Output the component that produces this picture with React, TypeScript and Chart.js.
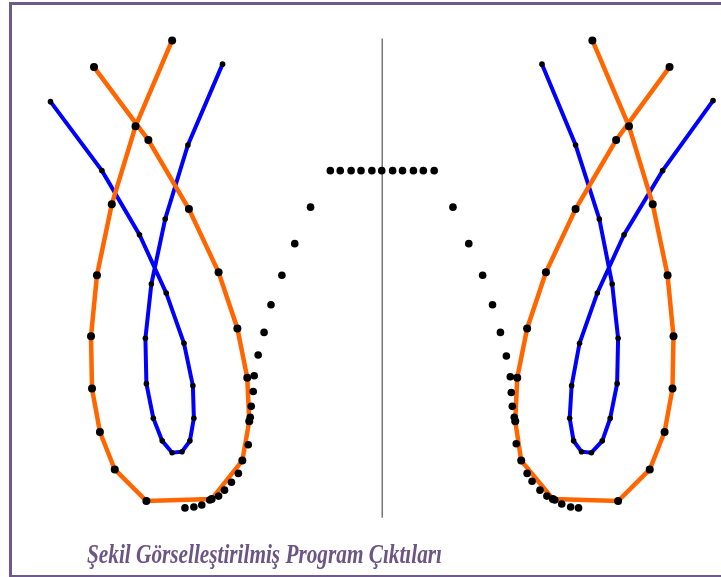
import React, { useEffect, useRef } from "react";
import { Chart, registerables } from "chart.js";

Chart.register(...registerables);

// Coordinates (x to the right, y downward).
const leftOrangeX = [170, 133, 109, 94, 88, 89, 97, 112, 144, 210, 241, 248, 246, 236, 217, 187, 146, 91];
const leftOrangeY = [37, 124, 203, 275, 337, 390, 434, 472, 504, 502, 463, 423, 379, 329, 272, 208, 138, 64];

const leftBlueX = [47, 99, 137, 164, 182, 191, 192, 188, 180, 170, 160, 151, 144, 143, 149, 163, 186, 221];
const leftBlueY = [99, 169, 234, 293, 344, 387, 420, 443, 454, 455, 443, 420, 385, 339, 284, 218, 143, 61];

const rightOrangeX = [595, 632, 656, 671, 677, 676, 668, 653, 621, 555, 523, 517, 519, 529, 548, 578, 619, 673];
const rightOrangeY = [37, 124, 203, 275, 337, 390, 434, 472, 504, 502, 463, 423, 379, 329, 272, 208, 138, 64];

const rightBlueX = [717, 666, 627, 600, 582, 574, 572, 576, 584, 594, 605, 613, 620, 621, 615, 602, 578, 544];
const rightBlueY = [98, 169, 234, 293, 344, 387, 420, 443, 454, 455, 443, 420, 385, 339, 284, 218, 143, 61];

const topRowX = [330, 340, 351, 361, 372, 382, 393, 403, 414, 424, 435];
const topRowY = [169, 169, 169, 169, 169, 169, 169, 169, 169, 169, 169];

const leftDotsX = [310, 294, 281, 270, 263, 257, 253, 252, 250, 249, 247, 237, 230, 223, 217, 208, 200, 192, 183];
const leftDotsY = [206, 243, 275, 305, 333, 356, 377, 393, 408, 419, 447, 476, 485, 493, 499, 503, 508, 510, 511];

const rightDotsX = [454, 470, 484, 494, 502, 508, 512, 513, 514, 516, 518, 529, 534, 542, 549, 557, 564, 573, 581];
const rightDotsY = [206, 243, 275, 305, 333, 357, 378, 394, 408, 419, 446, 476, 484, 493, 499, 503, 507, 510, 511];

const axisX = [382.5, 382.5];
const axisY = [35, 521];

const caption = "Şekil Görselleştirilmiş Program Çıktıları";

const W = 721;
const H = 577;

function pts(xs: number[], ys: number[]) {
  return xs.map((x, i) => ({ x, y: ys[i] }));
}

export default function App() {
  const ref = useRef<HTMLCanvasElement | null>(null);

  useEffect(() => {
    const canvas = ref.current;
    if (!canvas) return;

    const framePlugin = {
      id: "frame",
      beforeDraw(chart: any) {
        const ctx = chart.ctx;
        ctx.save();
        ctx.fillStyle = "#ffffff";
        ctx.fillRect(0, 0, W, H);
        ctx.restore();
      },
      afterDraw(chart: any) {
        const ctx = chart.ctx;
        ctx.save();
        ctx.fillStyle = "#6e5a8c";
        ctx.fillRect(9, 2, W - 9, 3);
        ctx.fillRect(9, 2, 3, H - 2);
        ctx.fillRect(9, 575, W - 9, 2);
        ctx.fillStyle = "#6a5585";
        ctx.font = 'bold italic 27px "Liberation Serif", "DejaVu Serif", serif';
        ctx.textBaseline = "alphabetic";
        ctx.fillText(caption, 87, 563, 355);
        ctx.restore();
      },
    };

    const orangeStyle = {
      borderColor: "#ff6600",
      borderWidth: 4.5,
      pointRadius: 4,
      pointBackgroundColor: "#000000",
      pointBorderColor: "#000000",
      pointBorderWidth: 0,
      showLine: true,
      tension: 0,
      clip: false as any,
    };
    const blueStyle = {
      borderColor: "#0000ff",
      borderWidth: 4,
      pointRadius: 2.8,
      pointBackgroundColor: "#000000",
      pointBorderColor: "#000000",
      pointBorderWidth: 0,
      showLine: true,
      tension: 0,
      clip: false as any,
    };
    const dotStyle = {
      showLine: false,
      pointRadius: 3.8,
      pointBackgroundColor: "#000000",
      pointBorderColor: "#000000",
      pointBorderWidth: 0,
      clip: false as any,
    };

    const chart = new Chart(canvas, {
      type: "scatter",
      data: {
        datasets: [
          { label: "noktalar sol", data: pts(leftDotsX, leftDotsY), ...dotStyle },
          { label: "noktalar sağ", data: pts(rightDotsX, rightDotsY), ...dotStyle },
          { label: "üst sıra", data: pts(topRowX, topRowY), ...dotStyle },
          { label: "sol turuncu", data: pts(leftOrangeX, leftOrangeY), ...orangeStyle },
          { label: "sağ turuncu", data: pts(rightOrangeX, rightOrangeY), ...orangeStyle },
          { label: "sol mavi", data: pts(leftBlueX, leftBlueY), ...blueStyle },
          { label: "sağ mavi", data: pts(rightBlueX, rightBlueY), ...blueStyle },
          {
            label: "eksen",
            data: pts(axisX, axisY),
            showLine: true,
            borderColor: "#777777",
            borderWidth: 1.5,
            pointRadius: 0,
            clip: false as any,
          },
        ],
      },
      options: {
        responsive: false,
        animation: false,
        events: [],
        layout: { padding: 0 },
        plugins: {
          legend: { display: false },
          tooltip: { enabled: false },
          title: { display: false },
        },
        scales: {
          x: { type: "linear", min: 0, max: W, display: false },
          y: { type: "linear", min: 0, max: H, reverse: true, display: false },
        },
      },
      plugins: [framePlugin],
    });

    return () => chart.destroy();
  }, []);

  return (
    <div style={{ position: "absolute", left: 0, top: 0, width: W, height: H }}>
      <canvas ref={ref} width={W} height={H} style={{ display: "block" }} />
    </div>
  );
}
